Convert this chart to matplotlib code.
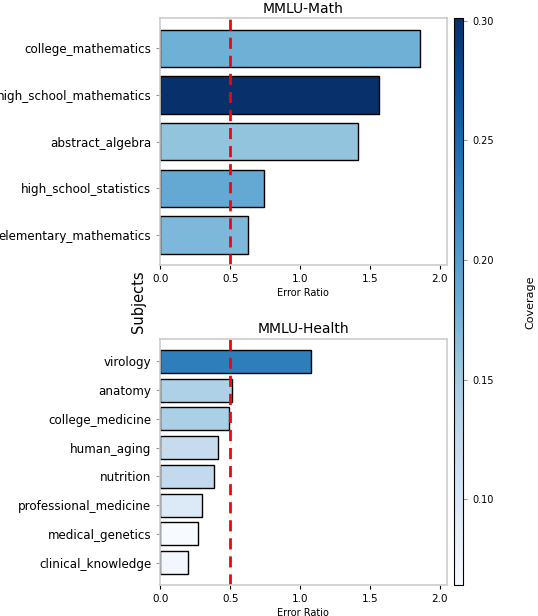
import matplotlib
matplotlib.use("Agg")
import matplotlib.pyplot as plt
from matplotlib import cm, colors

# MMLU-Math subjects (top to bottom)
math_subjects = ["college_mathematics", "high_school_mathematics", "abstract_algebra",
                 "high_school_statistics", "elementary_mathematics"]
math_error = [1.862, 1.566, 1.419, 0.739, 0.627]
math_coverage = [0.180, 0.301, 0.160, 0.188, 0.172]

# MMLU-Health subjects (top to bottom)
health_subjects = ["virology", "anatomy", "college_medicine", "human_aging", "nutrition",
                   "professional_medicine", "medical_genetics", "clinical_knowledge"]
health_error = [1.080, 0.515, 0.491, 0.413, 0.386, 0.300, 0.267, 0.196]
health_coverage = [0.230, 0.140, 0.143, 0.123, 0.126, 0.097, 0.064, 0.071]

threshold = 0.5
xticks = [0.0, 0.5, 1.0, 1.5, 2.0]

all_cov = math_coverage + health_coverage
norm = colors.Normalize(vmin=min(all_cov), vmax=max(all_cov))
cmap = plt.get_cmap("Blues")

fig = plt.figure(figsize=(5.38, 6.16), dpi=100)
ax1 = fig.add_axes([0.298, 0.570, 0.532, 0.400])
ax2 = fig.add_axes([0.298, 0.050, 0.532, 0.400])
cax = fig.add_axes([0.844, 0.050, 0.017, 0.920])


def draw_panel(ax, subjects, errors, coverage, title):
    ax.barh(subjects, errors, height=0.8, color=cmap(norm(coverage)),
            edgecolor="black", linewidth=1.0)
    ax.invert_yaxis()
    ax.axvline(threshold, color="red", linestyle="--", linewidth=2, dashes=(4, 2.5))
    ax.set_xlim(0, 2.05)
    ax.set_xticks(xticks)
    ax.tick_params(axis="x", labelsize=7.5, length=3)
    ax.tick_params(axis="y", labelsize=8.6, length=3, color="#999999")
    ax.set_xlabel("Error Ratio", fontsize=7, labelpad=3)
    ax.set_title(title, fontsize=10, pad=4)
    for s in ax.spines.values():
        s.set_color("#cccccc")
        s.set_linewidth(1.2)


draw_panel(ax1, math_subjects, math_error, math_coverage, "MMLU-Math")
draw_panel(ax2, health_subjects, health_error, health_coverage, "MMLU-Health")

sm = cm.ScalarMappable(norm=norm, cmap=cmap)
cb = fig.colorbar(sm, cax=cax)
cb.set_ticks([0.10, 0.15, 0.20, 0.25, 0.30])
cb.ax.tick_params(labelsize=7, length=3, color="#999999")
cb.set_label("Coverage", fontsize=8, labelpad=23)

fig.text(0.258, 0.510, "Subjects", rotation=90, fontsize=10.5, ha="center", va="center")

fig.savefig("out.png", dpi=100)
